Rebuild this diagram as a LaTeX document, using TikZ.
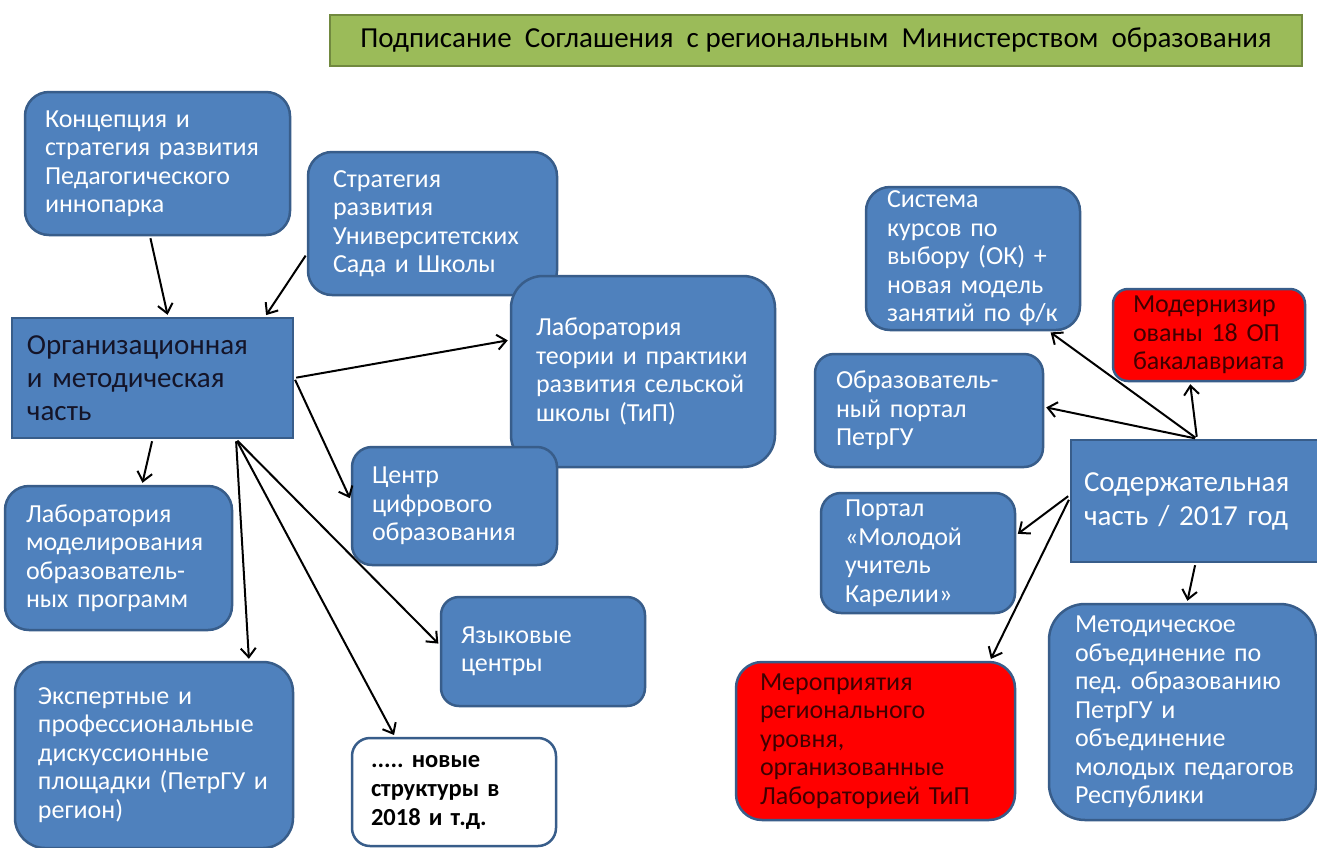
\documentclass[tikz,border=0pt]{standalone}
\usepackage{fontspec}
\setmainfont{Carlito}
\usetikzlibrary{arrows.meta,positioning}
\frenchspacing

\definecolor{boxblue}{RGB}{79,129,189}
\definecolor{boxline}{RGB}{56,93,138}
\definecolor{boxred}{RGB}{255,0,0}
\definecolor{titlegreen}{RGB}{155,187,89}
\definecolor{titleline}{RGB}{113,137,63}
\definecolor{darktext}{RGB}{20,20,40}
\definecolor{redtext}{RGB}{64,0,0}

\begin{document}
\begin{tikzpicture}[x=1pt,y=-1pt]
    % Define node styles
    \tikzstyle{unit}=[rectangle, draw=boxline, line width=2.5pt, fill=boxblue, text=white, inner xsep=0pt, inner ysep=0pt, align=left, font=\fontsize{26}{28.5}\selectfont, rounded corners=24pt]
    \tikzstyle{flat unit}=[unit, rounded corners=0pt, font=\fontsize{29}{33}\selectfont]
    \tikzstyle{red unit}=[unit, fill=boxred, text=redtext]
    \tikzstyle{link}=[line width=2pt, -{Straight Barb[length=9pt,width=15pt]}, shorten <=2pt, shorten >=2pt]
    \tikzset{pad/.style={execute at begin node={\leftskip=#1}}}

    \fill[white] (0,0) rectangle (1317,847);
    \useasboundingbox (0,0) rectangle (1317,847);

    % Top banner
    \node[draw=titleline, line width=2pt, fill=titlegreen, minimum width=972pt, minimum height=51pt, inner sep=0pt, font=\fontsize{29}{33}\selectfont] (sign) at (816,40.5) {Подписание\ \ Соглашения\ \ с региональным\ \ Министерством\ \ образования};

    % Left part: organisation
    \node[unit, text width=265pt, pad=20pt, minimum height=143pt] (concept) at (157.5,163.5) {Концепция и\\стратегия развития\\Педагогического\\иннопарка};
    \node[unit, text width=249pt, pad=25pt, minimum height=143pt] (strategy) at (432.5,223.5) {Стратегия\\развития\\Университетских\\Сада и Школы};
    \node[flat unit, text=darktext, text width=281pt, pad=15pt, minimum height=120pt] (orgpart) at (152.5,378) {Организационная\\и методическая\\часть};
    \node[unit, text width=264pt, pad=25pt, minimum height=191pt, rounded corners=32pt] (ruralab) at (643,371.5) {Лаборатория\\теории и практики\\развития сельской\\школы (ТиП)};
    \node[unit, text width=205pt, pad=20pt, minimum height=118pt, rounded corners=20pt] (digital) at (454.5,506) {Центр\\цифрового\\образования};
    \node[unit, text width=227pt, pad=21pt, minimum height=144pt] (modellab) at (118.5,558) {Лаборатория\\моделирования\\образователь-\\ных программ};
    \node[unit, text width=204pt, pad=20pt, minimum height=109pt, rounded corners=18pt] (language) at (543,651.5) {Языковые\\центры};
    \node[unit, text width=278pt, pad=23pt, minimum height=186pt, rounded corners=30pt] (experts) at (154,755) {Экспертные и\\профессиональные\\дискуссионные\\площадки (ПетрГУ и\\регион)};
    \node[unit, fill=white, text=black, font=\fontsize{24.5}{29}\selectfont\bfseries, text width=204pt, pad=19pt, minimum height=108pt, rounded corners=18pt] (newunits) at (454,792) {..... новые\\структуры в\\2018 и т.д.};

    % Right part: content
    \node[unit, text width=214pt, pad=21pt, minimum height=143pt] (courses) at (973,258.5) {Система\\курсов по\\выбору (ОК) +\\новая модель\\занятий по ф/к};
    \node[red unit, text width=192pt, pad=20pt, minimum height=92pt, rounded corners=15pt] (modern) at (1209,335) {Модернизир\\ованы 18 ОП\\бакалавриата};
    \node[unit, text width=228pt, pad=21pt, minimum height=113pt, rounded corners=19pt] (portal) at (929,410.5) {Образователь-\\ный портал\\ПетрГУ};
    \node[flat unit, text width=249pt, pad=13pt, minimum height=122pt, font=\fontsize{29}{34}\selectfont] (content) at (1195.5,501) {Содержательная\\часть / 2017 год};
    \node[unit, text width=194pt, pad=24pt, minimum height=120pt, rounded corners=20pt] (youngportal) at (918,553) {Портал\\«Молодой\\учитель\\Карелии»};
    \node[red unit, text width=279pt, pad=24pt, minimum height=158pt, rounded corners=26pt] (events) at (875.5,741) {Мероприятия\\регионального\\уровня,\\организованные\\Лабораторией ТиП};
    \node[unit, text width=267pt, pad=26pt, minimum height=216pt, rounded corners=36pt] (union) at (1182.5,712) {Методическое\\объединение по\\пед. образованию\\ПетрГУ и\\объединение\\молодых педагогов\\Республики};

    % Connect left part
    \draw[link] ([xshift=-7.5pt]concept.south) -- ([xshift=15.5pt]orgpart.north);
    \draw[link] ([yshift=-30.5pt]strategy.west) -- ([xshift=112.5pt]orgpart.north);
    \draw[link] (orgpart.east) -- ([yshift=31.5pt]ruralab.west);
    \draw[link] (orgpart.east) -- ([yshift=6pt]digital.west);
    \draw[link] (orgpart.south) -- ([xshift=23.5pt]modellab.north);
    \draw[link] ([xshift=83.5pt]orgpart.south) -- ([xshift=95pt]experts.north);
    \draw[link] ([xshift=83.5pt]orgpart.south) -- ([xshift=-59pt]newunits.north);
    \draw[link] ([xshift=83.5pt]orgpart.south) -- ([yshift=6.5pt]language.west);

    % Connect right part
    \draw[link] ([xshift=1.5pt]content.north) -- ([xshift=76pt]courses.south);
    \draw[link] ([xshift=1.5pt]content.north) -- ([yshift=3.5pt]portal.east);
    \draw[link] ([xshift=1.5pt]content.north) -- ([xshift=-19pt]modern.south);
    \draw[link] ([yshift=6pt]content.west) -- ([yshift=18pt]youngportal.east);
    \draw[link] ([yshift=3pt]content.west) -- ([xshift=114.5pt]events.north);
    \draw[link] (content.south) -- ([xshift=4.5pt]union.north);
\end{tikzpicture}
\end{document}
